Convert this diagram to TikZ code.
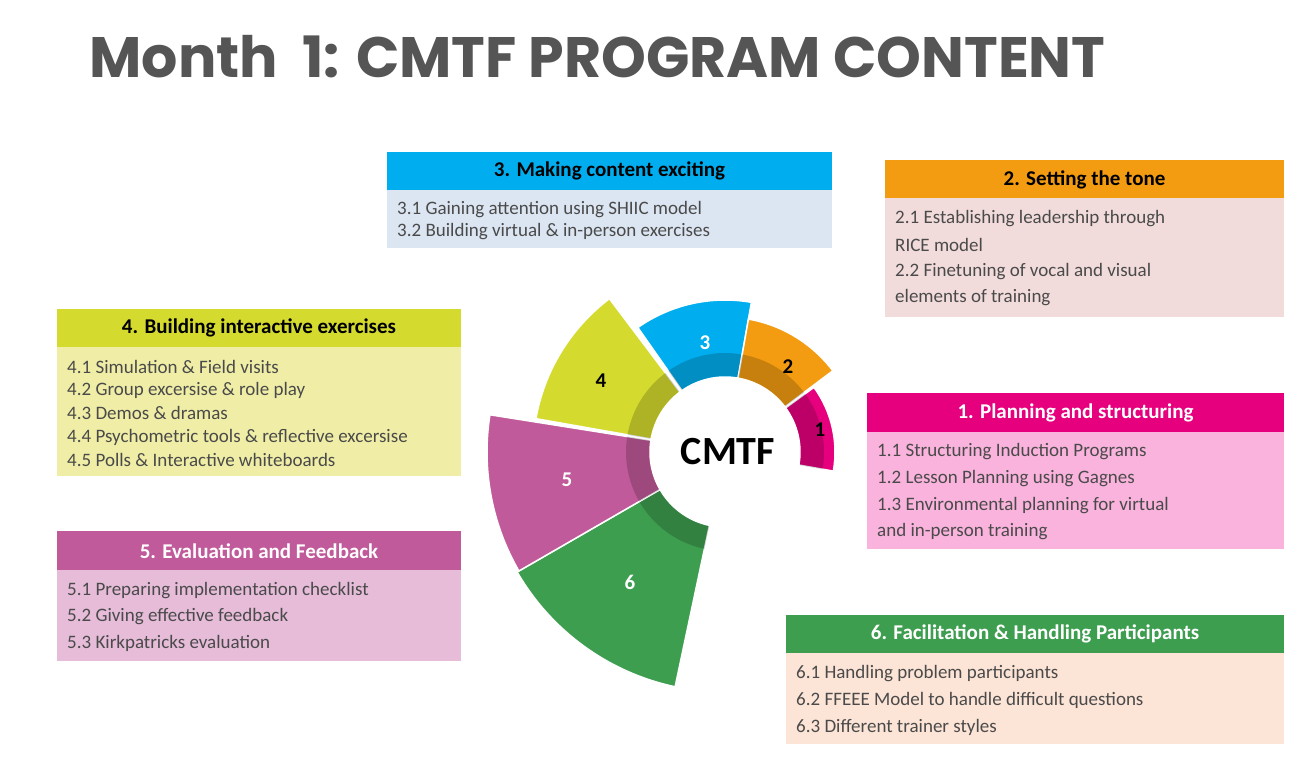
\documentclass[tikz,border=0pt]{standalone}
\usepackage{fontspec}
\setmainfont{Carlito}
\newfontfamily\titlefont{Poppins}
\definecolor{tgray}{HTML}{555555}
\definecolor{bgray}{HTML}{4A4A4A}
\definecolor{cA}{HTML}{E6007E}\definecolor{cAl}{HTML}{F9B3DC}
\definecolor{cB}{HTML}{F39C12}\definecolor{cBl}{HTML}{F2DCDB}
\definecolor{cC}{HTML}{00AEEF}\definecolor{cCl}{HTML}{DCE6F2}
\definecolor{cD}{HTML}{D4DB2E}\definecolor{cDl}{HTML}{F0EEA6}
\definecolor{cE}{HTML}{C05A9A}\definecolor{cEl}{HTML}{E6BCD9}
\definecolor{cF}{HTML}{3E9E50}\definecolor{cFl}{HTML}{FCE4D6}
\newcommand\mywedge[4]{% color, a1, a2, rout
  \fill[#1,draw=white,line width=1.5pt] (#2:75) arc[start angle=#2,end angle=#3,radius=75]
    -- (#3:#4) arc[start angle=#3,end angle=#2,radius=#4] -- cycle;
  \fill[black,opacity=.18] (#2:76) arc[start angle=#2,end angle=#3,radius=76]
    -- (#3:99) arc[start angle=#3,end angle=#2,radius=99] -- cycle;}
\newcommand\mybox[7]{% name, x1, y1, x2, yh, y2, hcolor/bcolor via #7 header text
  \fill[#7] (#2,#3) rectangle (#4,#5);}
\begin{document}
\begin{tikzpicture}[x=1pt,y=-1pt,
  hdr/.style={inner sep=0pt,font=\fontsize{21}{23}\selectfont\bfseries},
  ln/.style={anchor=west,inner sep=0pt,text=bgray,font=\fontsize{19}{21}\selectfont},
  seglab/.style={font=\fontsize{21}{23}\selectfont\bfseries}]
\useasboundingbox (0,0) rectangle (1297,764);
\node[anchor=west,text=tgray,font=\titlefont\fontsize{57}{60}\selectfont\bfseries] (title) at (86,57) {Month\ \ 1: CMTF PROGRAM CONTENT};
% wheel
\begin{scope}[shift={(725,452)},yscale=-1]
\mywedge{cF}{210}{258}{240}
\mywedge{cE}{171}{210}{238}
\mywedge{cD}{127}{170}{192}
\mywedge{cC}{80}{125}{152}
\mywedge{cB}{37}{80}{135}
\mywedge{cA}{-10}{36}{110}
\end{scope}
\node[font=\fontsize{40}{44}\selectfont\bfseries] (cmtf) at (728,452) {CMTF};
\node[seglab] (s1) at (820,430) {1};
\node[seglab] (s2) at (788,367) {2};
\node[seglab,white] (s3) at (705,343) {3};
\node[seglab] (s4) at (601,381) {4};
\node[seglab,white] (s5) at (567,480) {5};
\node[seglab,white] (s6) at (630,582) {6};
% box 3
\fill[cC] (387,152) rectangle (832,190); \fill[cCl] (387,190) rectangle (832,248);
\node[hdr] (h3) at (609.5,171) {3. Making content exciting};
\node[ln] (l31) at (397,210) {3.1 Gaining attention using SHIIC model};
\node[ln] (l32) at (397,232) {3.2 Building virtual \& in-person exercises};
% box 2
\fill[cB] (885,160) rectangle (1284,198); \fill[cBl] (885,198) rectangle (1284,317);
\node[hdr] (h2) at (1084.5,180) {2. Setting the tone};
\node[ln] (l21) at (895,219) {2.1 Establishing leadership through};
\node[ln] (l22) at (895,245) {RICE model};
\node[ln] (l23) at (895,272) {2.2 Finetuning of vocal and visual};
\node[ln] (l24) at (895,298) {elements of training};
% box 4
\fill[cD] (57,309) rectangle (461,347); \fill[cDl] (57,347) rectangle (461,476);
\node[hdr] (h4) at (259,328) {4. Building interactive exercises};
\node[ln] (l41) at (67,367) {4.1 Simulation \& Field visits};
\node[ln] (l42) at (67,390) {4.2 Group excersise \& role play};
\node[ln] (l43) at (67,413) {4.3 Demos \& dramas};
\node[ln] (l44) at (67,437) {4.4 Psychometric tools \& reflective excersise};
\node[ln] (l45) at (67,460) {4.5 Polls \& Interactive whiteboards};
% box 1
\fill[cA] (867,393) rectangle (1284,432); \fill[cAl] (867,432) rectangle (1284,549);
\node[hdr,white] (h1) at (1075.5,413) {1. Planning and structuring};
\node[ln] (l11) at (877,452) {1.1 Structuring Induction Programs};
\node[ln] (l12) at (877,479) {1.2 Lesson Planning using Gagnes};
\node[ln] (l13) at (877,506) {1.3 Environmental planning for virtual};
\node[ln] (l14) at (877,532) {and in-person training};
% box 5
\fill[cE] (57,531) rectangle (461,570); \fill[cEl] (57,570) rectangle (461,661);
\node[hdr,white] (h5) at (259,551) {5. Evaluation and Feedback};
\node[ln] (l51) at (67,591) {5.1 Preparing implementation checklist};
\node[ln] (l52) at (67,617) {5.2 Giving effective feedback};
\node[ln] (l53) at (67,643) {5.3 Kirkpatricks evaluation};
% box 6
\fill[cF] (786,615) rectangle (1284,653); \fill[cFl] (786,653) rectangle (1284,744);
\node[hdr,white] (h6) at (1035,634) {6. Facilitation \& Handling Participants};
\node[ln] (l61) at (796,674) {6.1 Handling problem participants};
\node[ln] (l62) at (796,700) {6.2 FFEEE Model to handle difficult questions};
\node[ln] (l63) at (796,727) {6.3 Different trainer styles};
\end{tikzpicture}
\end{document}
